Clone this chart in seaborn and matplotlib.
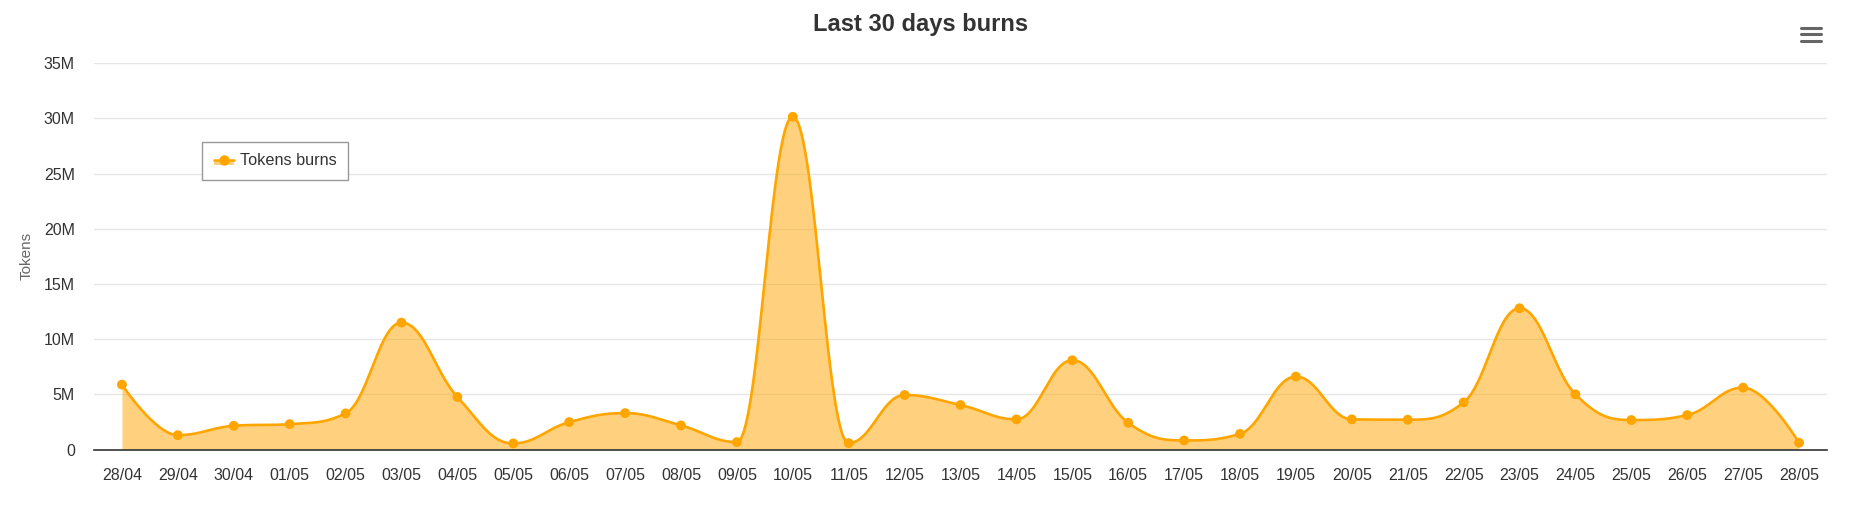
import numpy as np
import pandas as pd
import matplotlib
matplotlib.use("Agg")
import matplotlib.pyplot as plt
import seaborn as sns
from matplotlib.legend_handler import HandlerBase
from matplotlib.patches import Rectangle
from matplotlib.lines import Line2D
from matplotlib.ticker import FuncFormatter, MultipleLocator

# ---------------- data ----------------
dates = ["28/04", "29/04", "30/04", "01/05", "02/05", "03/05", "04/05", "05/05",
         "06/05", "07/05", "08/05", "09/05", "10/05", "11/05", "12/05", "13/05",
         "14/05", "15/05", "16/05", "17/05", "18/05", "19/05", "20/05", "21/05",
         "22/05", "23/05", "24/05", "25/05", "26/05", "27/05", "28/05"]
burns_millions = [5.88, 1.30, 2.15, 2.30, 3.27, 11.5, 4.76, 0.55,
                  2.48, 3.30, 2.18, 0.67, 30.15, 0.58, 4.94, 4.03,
                  2.73, 8.09, 2.42, 0.82, 1.42, 6.61, 2.73, 2.70,
                  4.27, 12.8, 5.00, 2.67, 3.12, 5.61, 0.61]
series_name = "Tokens burns"
y_title = "Tokens"
chart_title = "Last 30 days burns"

LINE = "#FFA500"
TEXT = "#333333"

burns = np.array(burns_millions) * 1e6
xpos = np.arange(len(dates), dtype=float)


# ---------- Highcharts-style spline smoothing ----------
def spline_controls(x, y, smoothing=1.5):
    n = len(x)
    left = [(x[i], y[i]) for i in range(n)]
    right = [(x[i], y[i]) for i in range(n)]
    denom = smoothing + 1
    for i in range(1, n - 1):
        px, py = x[i], y[i]
        lx, ly = x[i - 1], y[i - 1]
        nx, ny = x[i + 1], y[i + 1]
        lcx = (smoothing * px + lx) / denom
        lcy = (smoothing * py + ly) / denom
        rcx = (smoothing * px + nx) / denom
        rcy = (smoothing * py + ny) / denom
        if rcx != lcx:
            corr = ((rcy - lcy) * (rcx - px)) / (rcx - lcx) + py - rcy
            lcy += corr
            rcy += corr
        if lcy > ly and lcy > py:
            lcy = max(ly, py)
            rcy = 2 * py - lcy
        elif lcy < ly and lcy < py:
            lcy = min(ly, py)
            rcy = 2 * py - lcy
        if rcy > ny and rcy > py:
            rcy = max(ny, py)
            lcy = 2 * py - rcy
        elif rcy < ny and rcy < py:
            rcy = min(ny, py)
            lcy = 2 * py - rcy
        left[i] = (lcx, lcy)
        right[i] = (rcx, rcy)
    return left, right


def sample_curve(x, y, per=60):
    left, right = spline_controls(x, y)
    xs, ys = [], []
    t = np.linspace(0, 1, per)
    for i in range(1, len(x)):
        p0 = np.array([x[i - 1], y[i - 1]])
        c1 = np.array(right[i - 1])
        c2 = np.array(left[i])
        p3 = np.array([x[i], y[i]])
        pts = ((1 - t) ** 3)[:, None] * p0 + (3 * (1 - t) ** 2 * t)[:, None] * c1 \
            + (3 * (1 - t) * t ** 2)[:, None] * c2 + (t ** 3)[:, None] * p3
        if i > 1:
            pts = pts[1:]
        xs.extend(pts[:, 0])
        ys.extend(pts[:, 1])
    return np.array(xs), np.array(ys)


cx, cy = sample_curve(xpos, burns)
curve = pd.DataFrame({"x": cx, "y": cy})
points = pd.DataFrame({"x": xpos, "y": burns})

# ---------------- figure ----------------
sns.set_theme(style="white")
plt.rcParams["font.family"] = ["Liberation Sans", "DejaVu Sans"]

fig = plt.figure(figsize=(18.54, 5.19), dpi=100)
fig.patch.set_facecolor("white")
ax = fig.add_axes([94 / 1854, 1 - 449.5 / 519, (1827 - 94) / 1854, (449.5 - 63.3) / 519])
ax.set_facecolor("white")

ax.fill_between(cx, 0, cy, color=LINE, alpha=0.5, lw=0, zorder=1)
sns.lineplot(data=curve, x="x", y="y", sort=False, estimator=None, color=LINE,
             lw=1.9, ax=ax, zorder=3)
sns.scatterplot(data=points, x="x", y="y", s=50, color=LINE, edgecolor="none",
                ax=ax, zorder=4)

ax.set_xlim(-0.5, len(dates) - 0.5)
ax.set_ylim(0, 35e6)
ax.yaxis.set_major_locator(MultipleLocator(5e6))
ax.yaxis.set_major_formatter(FuncFormatter(lambda v, p: "0" if v == 0 else f"{v / 1e6:.0f}M"))
ax.set_xticks(xpos)
ax.set_xticklabels(dates)
ax.set_xlabel("")
ax.set_ylabel("")

ax.yaxis.grid(True, color="#e6e6e6", lw=1.0)
ax.xaxis.grid(False)
ax.set_axisbelow(True)
for s in ["top", "left", "right"]:
    ax.spines[s].set_visible(False)
ax.spines["bottom"].set_color(TEXT)
ax.spines["bottom"].set_linewidth(1.2)
ax.spines["bottom"].set_zorder(5)

ax.tick_params(axis="x", length=0, pad=13.5, labelsize=11.5, labelcolor=TEXT)
ax.tick_params(axis="y", length=0, pad=13.7, labelsize=11.5, labelcolor=TEXT)

ax.text(-0.0388, 0.5, y_title, transform=ax.transAxes, rotation=90,
        ha="center", va="center", fontsize=11, color="#666666")

fig.text(920.5 / 1854, 1 - 24 / 519, chart_title, ha="center", va="center",
         fontsize=17, fontweight="bold", color=TEXT)

# menu icon
for yy in (28.3, 34.3, 40.7):
    fig.add_artist(Line2D([1801 / 1854, 1821 / 1854], [1 - yy / 519] * 2,
                          color="#666666", lw=2.2, solid_capstyle="round"))


class AreaHandler(HandlerBase):
    def create_artists(self, legend, orig_handle, xdescent, ydescent, width,
                       height, fontsize, trans):
        x0, y0 = -xdescent, -ydescent
        rect = Rectangle((x0, y0), width, height / 2, facecolor=LINE, alpha=0.5,
                         lw=0, transform=trans)
        line = Line2D([x0, x0 + width], [y0 + height / 2] * 2, color=LINE,
                      lw=1.8, transform=trans)
        dot = Line2D([x0 + width / 2], [y0 + height / 2], marker="o", ms=7.5,
                     color=LINE, mec="none", lw=0, transform=trans)
        return [rect, line, dot]


handle = Line2D([], [], color=LINE)
leg = ax.legend([handle], [series_name], handler_map={Line2D: AreaHandler()},
                loc="upper left", bbox_to_anchor=((202.3 - 94) / 1733, 0.797),
                borderaxespad=0, fontsize=11.7, frameon=True, fancybox=False,
                framealpha=1, edgecolor="#999999", handlelength=1.25,
                handletextpad=0.35, borderpad=0.72)
leg.get_frame().set_linewidth(1.0)
for t in leg.get_texts():
    t.set_color(TEXT)

fig.savefig("out.png", dpi=100, facecolor="white")
